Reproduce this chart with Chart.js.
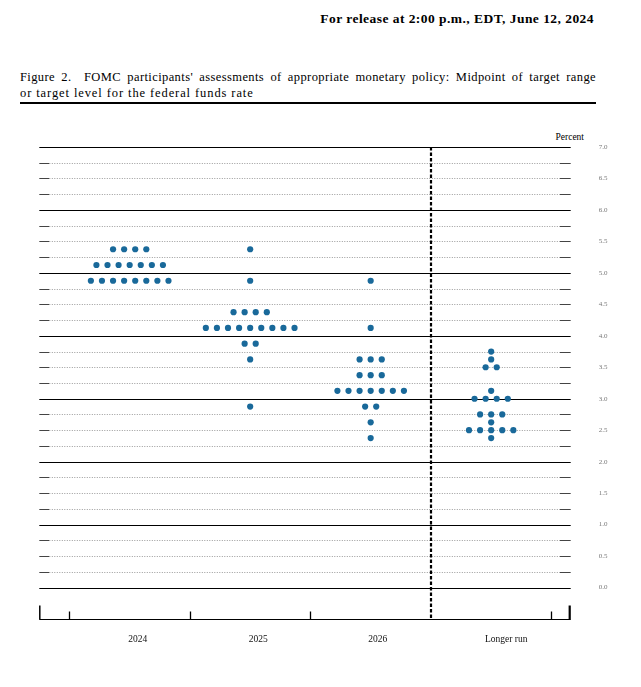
<!DOCTYPE html>
<html>
<head>
<meta charset="utf-8">
<script src="https://cdn.jsdelivr.net/npm/chart.js@4.4.1/dist/chart.umd.min.js"></script>
<style>
  body { margin: 0; background: #fff; width: 641px; height: 687px; position: relative; overflow: hidden;
         font-family: "Liberation Serif", "DejaVu Serif", serif; color: #000; }
  #release { position: absolute; right: 47px; top: 11px; font-weight: bold; font-size: 13.5px; letter-spacing: 0.45px; }
  #caption { position: absolute; left: 20px; top: 69px; width: 576px; font-size: 12.5px; line-height: 16px; }
  #caption .l1 { white-space: nowrap; letter-spacing: 0.4px; text-align: justify; text-align-last: justify; }
  #caption .l2 { white-space: nowrap; letter-spacing: 0.9px; }
  #rule { position: absolute; left: 20px; top: 102px; width: 576px; height: 2px; background: #000; }
  #percent { position: absolute; right: 57px; top: 132px; font-size: 9.5px; }
  #wrap { position: absolute; left: 0; top: 110px; width: 641px; height: 560px; }
</style>
</head>
<body>
<div id="release">For release at 2:00 p.m., EDT, June 12, 2024</div>
<div id="caption">
  <div class="l1">Figure 2.&nbsp; FOMC participants' assessments of appropriate monetary policy: Midpoint of target range</div>
  <div class="l2">or target level for the federal funds rate</div>
</div>
<div id="rule"></div>
<div id="percent">Percent</div>
<div id="wrap"><canvas id="dots"></canvas></div>

<script>
// categories along the bottom
var categories = ['2024', '2025', '2026', 'Longer run'];

// midpoint levels and number of participants at each level
var rates2024 = [5.375, 5.125, 4.875];
var counts2024 = [4, 7, 8];

var rates2025 = [5.375, 4.875, 4.375, 4.125, 3.875, 3.625, 2.875];
var counts2025 = [1, 1, 4, 9, 2, 1, 1];

var rates2026 = [4.875, 4.125, 3.625, 3.375, 3.125, 2.875, 2.625, 2.375];
var counts2026 = [1, 1, 3, 3, 7, 2, 1, 1];

var ratesLonger = [3.75, 3.625, 3.5, 3.125, 3.0, 2.75, 2.625, 2.5, 2.375];
var countsLonger = [1, 1, 2, 1, 4, 3, 1, 5, 1];

// y axis labels (percent)
var yTicks = [0, 0.5, 1, 1.5, 2, 2.5, 3, 3.5, 4, 4.5, 5, 5.5, 6, 6.5, 7];

var groups = [
  [rates2024, counts2024],
  [rates2025, counts2025],
  [rates2026, counts2026],
  [ratesLonger, countsLonger]
];

var dotGap = 0.092; // horizontal spacing between dots in a row, in x units
var points = [];
groups.forEach(function (g, c) {
  g[0].forEach(function (r, k) {
    var n = g[1][k];
    for (var i = 0; i < n; i++) {
      points.push({ x: c + 1 + (i - (n - 1) / 2) * dotGap, y: r });
    }
  });
});

var frame = {
  id: 'frame',
  beforeDatasetsDraw: function (chart) {
    var ctx = chart.ctx, a = chart.chartArea, x = chart.scales.x, y = chart.scales.y;
    ctx.save();
    // horizontal rules every quarter point
    for (var q = 0; q <= 28; q++) {
      var v = q / 4;
      var py = Math.round(y.getPixelForValue(v)) + 0.5;
      if (q % 4 === 0) {
        ctx.strokeStyle = '#000';
        ctx.lineWidth = 1.2;
        ctx.setLineDash([]);
        ctx.beginPath(); ctx.moveTo(a.left, py); ctx.lineTo(a.right, py); ctx.stroke();
      } else {
        ctx.strokeStyle = '#444';
        ctx.lineWidth = 1;
        ctx.setLineDash([]);
        ctx.beginPath();
        ctx.moveTo(a.left, py); ctx.lineTo(a.left + 10, py);
        ctx.moveTo(a.right - 11, py); ctx.lineTo(a.right, py);
        ctx.stroke();
        ctx.strokeStyle = '#9a9a9a';
        ctx.setLineDash([1, 1.5]);
        ctx.beginPath(); ctx.moveTo(a.left + 10, py); ctx.lineTo(a.right - 11, py); ctx.stroke();
      }
    }
    // bottom axis line and ticks
    ctx.setLineDash([]);
    ctx.strokeStyle = '#000';
    ctx.lineWidth = 1.2;
    var by = Math.round(a.bottom) + 0.5;
    ctx.beginPath(); ctx.moveTo(a.left, by); ctx.lineTo(a.right, by); ctx.stroke();
    ctx.lineWidth = 1.5;
    ctx.beginPath();
    ctx.moveTo(a.left + 0.5, by); ctx.lineTo(a.left + 0.5, by - 14);
    ctx.stroke();
    ctx.lineWidth = 2.2;
    ctx.beginPath();
    ctx.moveTo(a.right - 1, by); ctx.lineTo(a.right - 1, by - 14);
    ctx.stroke();
    ctx.lineWidth = 1.3;
    ctx.beginPath();
    [0.5, 1.5, 2.5, 4.5].forEach(function (t) {
      var px = Math.round(x.getPixelForValue(t)) + 0.5;
      ctx.moveTo(px, by); ctx.lineTo(px, by - 8);
    });
    ctx.stroke();
    // dashed divider before the longer run
    var dx = Math.round(x.getPixelForValue(3.5));
    ctx.strokeStyle = '#000';
    ctx.lineWidth = 2.2;
    ctx.setLineDash([3.5, 2]);
    ctx.beginPath(); ctx.moveTo(dx, a.top); ctx.lineTo(dx, a.bottom); ctx.stroke();
    ctx.restore();
  },
  afterDraw: function (chart) {
    var ctx = chart.ctx, a = chart.chartArea, x = chart.scales.x;
    var shift = [8, 8, 7, 15];
    ctx.save();
    ctx.fillStyle = '#111';
    ctx.font = '9.5px "Liberation Serif", serif';
    ctx.textAlign = 'center';
    ctx.textBaseline = 'middle';
    categories.forEach(function (c, i) {
      ctx.fillText(c, x.getPixelForValue(i + 1) + shift[i], a.bottom + 20);
    });
    ctx.restore();
  }
};

new Chart(document.getElementById('dots').getContext('2d'), {
  type: 'scatter',
  data: {
    datasets: [{
      data: points,
      pointRadius: 3.1,
      pointHoverRadius: 3.1,
      pointBackgroundColor: '#19699a',
      pointBorderWidth: 0,
      showLine: false
    }]
  },
  options: {
    responsive: true,
    maintainAspectRatio: false,
    animation: false,
    events: [],
    layout: { padding: { left: 39.3, top: 37, right: 0, bottom: 51 } },
    plugins: { legend: { display: false }, tooltip: { enabled: false } },
    scales: {
      x: { type: 'linear', min: 0.25, max: 4.66, display: false },
      y: {
        type: 'linear', min: -0.5, max: 7, position: 'right',
        grid: { display: false }, border: { display: false },
        afterBuildTicks: function (s) { s.ticks = yTicks.map(function (v) { return { value: v }; }); },
        afterFit: function (s) { s.width = 70.3; },
        ticks: {
          padding: 20,
          color: '#777',
          font: { family: '"Liberation Serif", serif', size: 7 },
          callback: function (v) { return Number(v).toFixed(1); }
        }
      }
    }
  },
  plugins: [frame]
});
</script>
</body>
</html>
